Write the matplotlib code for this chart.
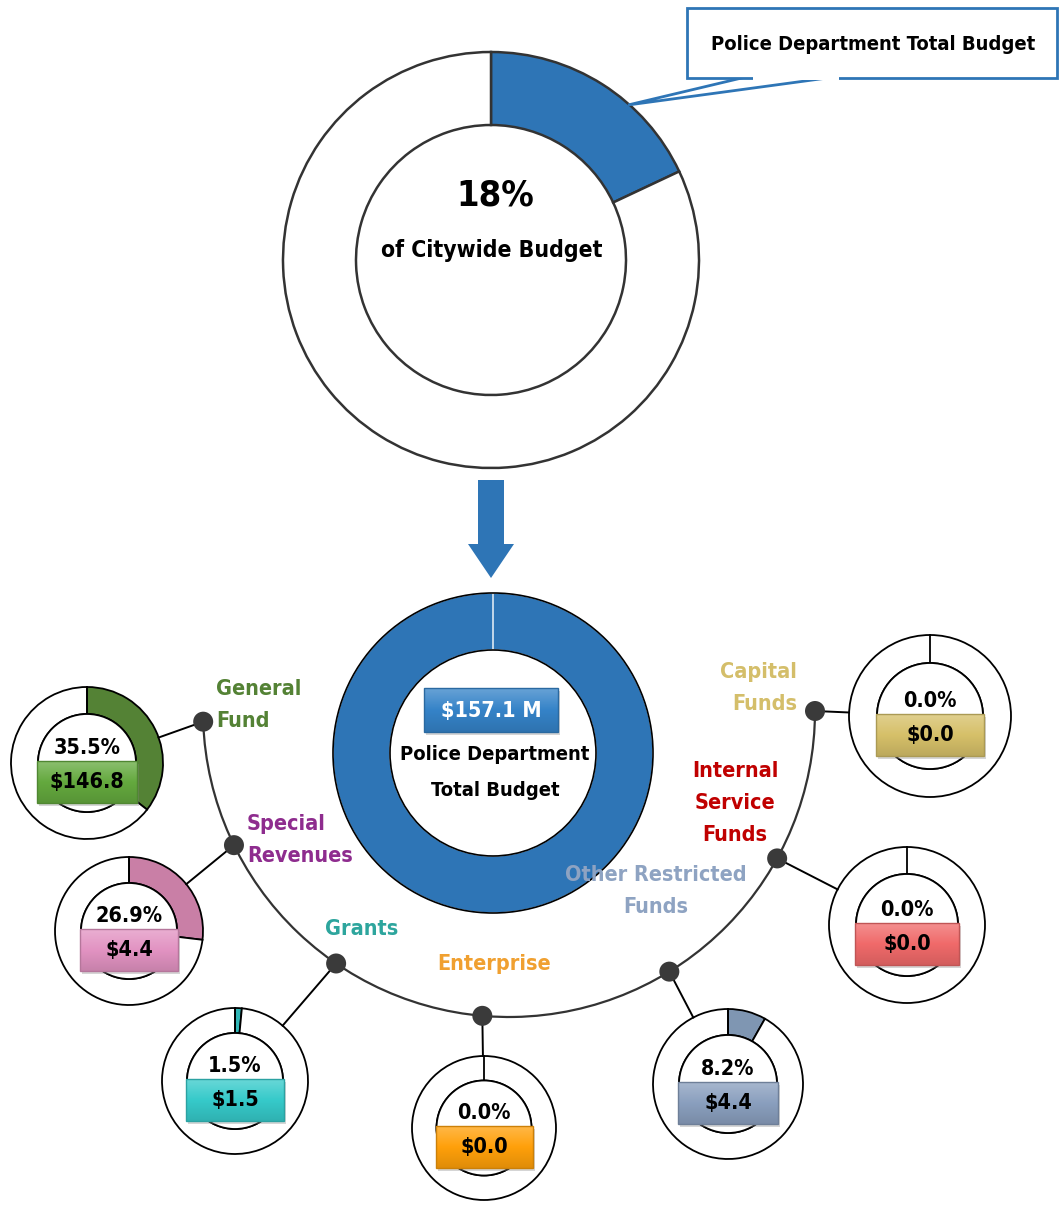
import numpy as np
import matplotlib.pyplot as plt
from matplotlib import font_manager
from matplotlib.colors import to_rgb
from matplotlib.patches import Arc, Circle, Rectangle, Polygon

# data
citywide_share = [18, 82]
total_budget = 157.1
funds = ['General\nFund', 'Special\nRevenues', 'Grants', 'Enterprise',
         'Other Restricted\nFunds', 'Internal\nService\nFunds', 'Capital\nFunds']
fund_pct = [35.5, 26.9, 1.5, 0.0, 8.2, 0.0, 0.0]
fund_amount = [146.8, 4.4, 1.5, 0.0, 4.4, 0.0, 0.0]

slice_colors = ['#548235', '#C97FA6', '#31B7B7', '#F5A300', '#7F96B2', '#F06A6A', '#D6BF63']
box_colors = ['#64A93E', '#E293C2', '#36CACA', '#FFA00A', '#8A9FBE', '#F06A6A', '#D6C069']
label_colors = ['#548235', '#8E2C8E', '#2DA59D', '#F0A030', '#8EA3C2', '#C00000', '#D4BE6A']

W, H = 1059, 1205
BLUE = '#2E75B6'

# a condensed face if there is one, else plain DejaVu a bit smaller
plt.rcParams['font.family'] = ['DejaVu Sans']
plt.rcParams['font.weight'] = 'bold'
fp = font_manager.FontProperties(family='DejaVu Sans', weight='bold', stretch='condensed')
f = font_manager.findfont(fp, fallback_to_default=True)
if 'Condensed' in f:
    plt.rcParams['font.stretch'] = 'condensed'
    k = 1.0
else:
    k = 0.82

fig = plt.figure(figsize=(W / 100, H / 100), dpi=100)
ax = fig.add_axes([0, 0, 1, 1])


def Y(y):
    return H - y


def shaded_box(x0, y0, w, h, color, z=5):
    # little bevelled label box, lighter on top, darker at the bottom
    base = np.array(to_rgb(color))
    t = np.linspace(0, 1, 40)[:, None]
    top = base + (1 - base) * 0.25
    bot = base * 0.88
    grad = np.where(t < 0.5, top + (base - top) * (t / 0.5), base + (bot - base) * ((t - 0.5) / 0.5))
    grad = grad[:, None, :]
    ax.add_patch(Rectangle((x0 + 2, y0 - 3), w, h, facecolor='#888888', alpha=0.35,
                           edgecolor='none', zorder=z - 0.5))
    rect = Rectangle((x0, y0), w, h, facecolor='none', edgecolor=tuple(base * 0.8),
                     linewidth=1, zorder=z + 0.2)
    ax.add_patch(rect)
    im = ax.imshow(grad, extent=(x0, x0 + w, y0, y0 + h), aspect='auto', zorder=z,
                   interpolation='bilinear')
    im.set_clip_path(rect)


# top donut: share of citywide budget
ax.pie(citywide_share, colors=[BLUE, 'white'], center=(491, Y(260)), radius=208,
       startangle=90, counterclock=False,
       wedgeprops=dict(width=73, edgecolor='#333333', linewidth=1.8))
ax.text(495, Y(195), f'{citywide_share[0]}%', ha='center', va='center', fontsize=26 * k)
ax.text(492, Y(250), 'of Citywide Budget', ha='center', va='center', fontsize=16.5 * k)

# callout
ax.add_patch(Polygon([(750, Y(76)), (628, Y(105)), (842, Y(76))], closed=True,
                     facecolor='white', edgecolor=BLUE, linewidth=2, zorder=3))
ax.add_patch(Rectangle((687, Y(78)), 370, 70, facecolor='white', edgecolor=BLUE,
                       linewidth=2, zorder=4))
ax.add_patch(Rectangle((753, Y(79.5)), 86, 4, facecolor='white', edgecolor='none', zorder=5))
ax.text(873, Y(44), 'Police Department Total Budget', ha='center', va='center',
        fontsize=14.5 * k, zorder=6)

# arrow
ax.arrow(491, Y(480), 0, -98, width=26, head_width=46, head_length=34,
         length_includes_head=True, color=BLUE, linewidth=0)

# central donut
ax.pie([100, 0], colors=[BLUE, BLUE], center=(493, Y(753)), radius=160,
       startangle=90, counterclock=False,
       wedgeprops=dict(width=57, edgecolor='white', linewidth=1))
ax.add_patch(Circle((493, Y(753)), 160, facecolor='none', edgecolor='black', linewidth=1.2))
ax.add_patch(Circle((493, Y(753)), 103, facecolor='white', edgecolor='black', linewidth=1.2))
shaded_box(424, Y(732), 134, 44, '#3583C8')
ax.text(491, Y(711), f'${total_budget} M', ha='center', va='center', color='white',
        fontsize=15.5 * k, zorder=6)
ax.text(495, Y(755), 'Police Department', ha='center', va='center', fontsize=14.5 * k)
ax.text(495, Y(791), 'Total Budget', ha='center', va='center', fontsize=14.5 * k)

# arc linking the funds
arc_c = (509, Y(711))
arc_r = 306
ax.add_patch(Arc(arc_c, 2 * arc_r, 2 * arc_r, theta1=182, theta2=360,
                 color='#333333', linewidth=1.6, zorder=2))

dot_angles = [182, 206, 235.6, 265, 301.6, 331.2, 360]
donut_centers = [(87, 763), (129, 931), (235, 1081), (484, 1128),
                 (728, 1084), (907, 925), (930, 716)]
donut_radii = [(76, 49), (74, 48), (73, 48), (72, 47.5), (75, 49), (78, 51), (81, 53)]
label_pos = [(216, 705, 'left'), (247, 840, 'left'), (362, 929, 'center'),
             (494, 964, 'center'), (656, 891, 'center'), (735, 803, 'center'),
             (797, 688, 'right')]

for i in range(len(funds)):
    a = np.radians(dot_angles[i])
    dx, dy = arc_c[0] + arc_r * np.cos(a), arc_c[1] + arc_r * np.sin(a)
    cx, cy = donut_centers[i][0], Y(donut_centers[i][1])
    R, r = donut_radii[i]
    v = np.array([dx - cx, dy - cy])
    v = v / np.hypot(*v)
    ax.plot([dx, cx + R * v[0]], [dy, cy + R * v[1]], color='black', linewidth=1.4, zorder=2)
    ax.add_patch(Circle((dx, dy), 10, facecolor='#3A3A3A', edgecolor='none', zorder=3))

    ax.pie([fund_pct[i], 100 - fund_pct[i]], colors=[slice_colors[i], 'white'],
           center=(cx, cy), radius=R, startangle=90, counterclock=False,
           wedgeprops=dict(width=R - r, edgecolor='black', linewidth=1.3))
    ax.plot([cx, cx], [cy + r, cy + R], color='black', linewidth=1.3, zorder=3)
    ax.add_patch(Circle((cx, cy), r, facecolor='white', edgecolor='black',
                        linewidth=1.3, zorder=3))
    ax.text(cx, cy + 15, f'{fund_pct[i]:.1f}%', ha='center', va='center',
            fontsize=15.5 * k, zorder=4)
    bw = 2 * r + 2
    shaded_box(cx - bw / 2, cy - 40, bw, 42, box_colors[i])
    ax.text(cx, cy - 19, f'${fund_amount[i]:.1f}', ha='center', va='center',
            fontsize=15.5 * k, zorder=6)

    lx, ly, ha = label_pos[i]
    ax.text(lx, Y(ly), funds[i], ha=ha, va='center', color=label_colors[i],
            fontsize=15.5 * k, linespacing=1.75, multialignment=ha)

ax.set_xlim(0, W)
ax.set_ylim(0, H)
ax.set_aspect('equal')
ax.axis('off')
fig.savefig('out.png', dpi=100, facecolor='white')
